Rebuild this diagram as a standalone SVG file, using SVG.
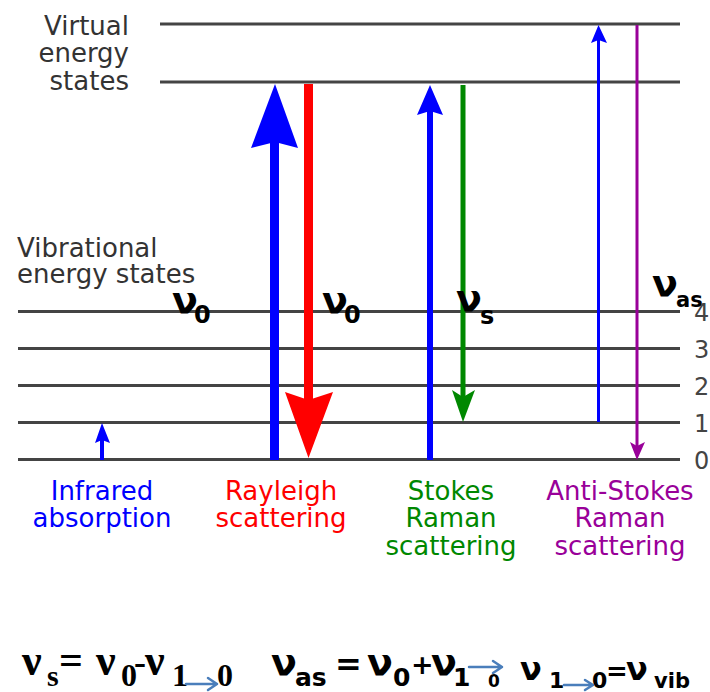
<svg xmlns="http://www.w3.org/2000/svg" width="710" height="692" viewBox="0 0 710 692">
<style>
.lvl{stroke:#444;stroke-width:3}
.lbl{font-family:"DejaVu Sans",sans-serif;font-size:26px;fill:#333}
.num{font-family:"DejaVu Sans",sans-serif;font-size:24px;fill:#444}
.cap{font-family:"DejaVu Sans",sans-serif;font-size:26px;text-anchor:middle}
.nu{font-family:"DejaVu Sans",sans-serif;font-weight:bold;fill:#000}
.f1{font-family:"Liberation Serif",serif;font-weight:bold;fill:#000}
.f2{font-family:"DejaVu Sans",sans-serif;font-weight:bold;fill:#000}
.farr{fill:none;stroke:#4a7ebb;stroke-width:2.5;stroke-linecap:round;stroke-linejoin:round}
</style>
<rect width="710" height="692" fill="#fff"/>
<g id="levels">
<line class="lvl" x1="160" y1="24" x2="680" y2="24"/>
<line class="lvl" x1="160" y1="82" x2="680" y2="82"/>
<line class="lvl" x1="18" y1="311.5" x2="680" y2="311.5"/>
<line class="lvl" x1="18" y1="348.5" x2="680" y2="348.5"/>
<line class="lvl" x1="18" y1="385.5" x2="680" y2="385.5"/>
<line class="lvl" x1="18" y1="422.5" x2="680" y2="422.5"/>
<line class="lvl" x1="18" y1="459.5" x2="680" y2="459.5"/>
</g>
<g id="level-labels">
<text class="lbl" text-anchor="end" x="129" y="35">Virtual</text>
<text class="lbl" text-anchor="end" x="129" y="62">energy</text>
<text class="lbl" text-anchor="end" x="129" y="90">states</text>
<text class="lbl" x="17" y="257">Vibrational</text>
<text class="lbl" x="17" y="283">energy states</text>
<text class="num" x="694" y="321">4</text>
<text class="num" x="694" y="358">3</text>
<text class="num" x="694" y="395">2</text>
<text class="num" x="694" y="432">1</text>
<text class="num" x="694" y="469">0</text>
</g>
<g id="connectors">
<g id="infrared" fill="#00f">
<line x1="102" y1="460" x2="102" y2="438" stroke="#00f" stroke-width="4"/>
<polygon points="102,423 110,443 102,440 95,443"/>
</g>
<g id="rayleigh-in" fill="#00f">
<line x1="274.5" y1="460" x2="274.5" y2="140" stroke="#00f" stroke-width="9"/>
<polygon points="275,84 298,148 275,142 251,148"/>
</g>
<g id="rayleigh-out" fill="#f00">
<line x1="308.5" y1="84" x2="308.5" y2="405" stroke="#f00" stroke-width="9"/>
<polygon points="308.5,458 285,392 308.5,400 333,392"/>
</g>
<g id="stokes-in" fill="#00f">
<line x1="430" y1="460" x2="430" y2="110" stroke="#00f" stroke-width="6"/>
<polygon points="430,85 443,115 430,111 417,115"/>
</g>
<g id="stokes-out" fill="#080">
<line x1="463" y1="85" x2="463" y2="400" stroke="#080" stroke-width="5"/>
<polygon points="463,422 452,390 463,397 475,390"/>
</g>
<g id="antistokes-in" fill="#00f">
<line x1="598.5" y1="422" x2="598.5" y2="38" stroke="#00f" stroke-width="3"/>
<polygon points="598.5,25 607,43 598.5,40 591,43"/>
</g>
<g id="antistokes-out" fill="#909">
<line x1="637" y1="25" x2="637" y2="448" stroke="#909" stroke-width="3"/>
<polygon points="637,460 645,442 637,446 630,442"/>
</g>
</g>
<g id="freq-labels">
<text class="nu"><tspan x="172" y="313" font-size="38">ν</tspan><tspan x="194" y="323" font-size="24">0</tspan></text>
<text class="nu"><tspan x="322" y="313" font-size="38">ν</tspan><tspan x="344" y="323" font-size="24">0</tspan></text>
<text class="nu"><tspan x="456" y="311" font-size="38">ν</tspan><tspan x="480" y="324" font-size="24">s</tspan></text>
<text class="nu"><tspan x="652" y="296" font-size="38">ν</tspan><tspan x="676" y="307" font-size="21">as</tspan></text>
</g>
<g id="captions">
<text class="cap" fill="#00f"><tspan x="102" y="500">Infrared</tspan><tspan x="102" y="527">absorption</tspan></text>
<text class="cap" fill="#f00"><tspan x="281" y="500">Rayleigh</tspan><tspan x="281" y="527">scattering</tspan></text>
<text class="cap" fill="#080"><tspan x="451" y="500">Stokes</tspan><tspan x="451" y="527">Raman</tspan><tspan x="451" y="555">scattering</tspan></text>
<text class="cap" fill="#909"><tspan x="620" y="500">Anti-Stokes</tspan><tspan x="620" y="527">Raman</tspan><tspan x="620" y="555">scattering</tspan></text>
</g>
<g id="formula-stokes">
<text class="f1"><tspan x="22" y="675" font-size="44">ν</tspan><tspan x="47" y="686" font-size="30">s</tspan><tspan x="59" y="674" font-size="42">=</tspan><tspan x="96" y="675" font-size="44">ν</tspan><tspan x="121" y="686" font-size="32">0</tspan><tspan x="134" y="674" font-size="36">-</tspan><tspan x="145" y="675" font-size="44">ν</tspan><tspan x="172" y="686" font-size="32">1</tspan><tspan x="217" y="686" font-size="32">0</tspan></text>
<path class="farr" d="M186,684 H217 M208,678 L217,684 L208,690"/>
</g>
<g id="formula-antistokes">
<text class="f2"><tspan x="271" y="675" font-size="38">ν</tspan><tspan x="295" y="686" font-size="25">as</tspan><tspan x="335" y="675" font-size="32">=</tspan><tspan x="367" y="675" font-size="38">ν</tspan><tspan x="393" y="686" font-size="25">0</tspan><tspan x="411" y="674" font-size="27">+</tspan><tspan x="431" y="675" font-size="38">ν</tspan><tspan x="453" y="686" font-size="25">1</tspan><tspan x="488" y="687" font-size="17">0</tspan></text>
<path class="farr" d="M469,667 H502 M493,661 L502,667 L493,673"/>
</g>
<g id="formula-vib">
<text class="f2"><tspan x="520" y="680" font-size="32">ν</tspan><tspan x="549" y="688" font-size="22">1</tspan><tspan x="592" y="688" font-size="22">0</tspan><tspan x="606" y="680" font-size="26">=</tspan><tspan x="626" y="680" font-size="32">ν</tspan><tspan x="654" y="688" font-size="21">vib</tspan></text>
<path class="farr" d="M564,685 H593 M585,680 L593,685 L585,690"/>
</g>
</svg>
